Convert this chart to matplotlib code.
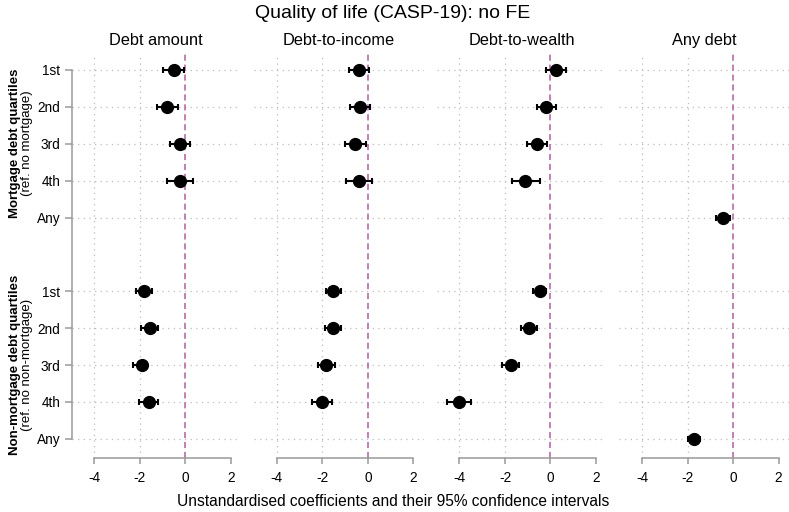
import numpy as np
import matplotlib
matplotlib.use('Agg')
import matplotlib.pyplot as plt

plt.rcParams['font.family'] = ['Liberation Sans', 'DejaVu Sans']

# panels and row labels
panels = ['Debt amount', 'Debt-to-income', 'Debt-to-wealth', 'Any debt']
row_labels = ['1st', '2nd', '3rd', '4th', 'Any', '1st', '2nd', '3rd', '4th', 'Any']
row_pos = [1, 2, 3, 4, 5, 7, 8, 9, 10, 11]
nan = np.nan

# coefficients (rows: mortgage 1st..Any, non-mortgage 1st..Any)
coef_amount = [-0.50, -0.79, -0.23, -0.25, nan, -1.81, -1.57, -1.92, -1.60, nan]
lo_amount = [-0.97, -1.26, -0.66, -0.82, nan, -2.16, -1.94, -2.31, -2.03, nan]
hi_amount = [-0.06, -0.32, 0.22, 0.34, nan, -1.46, -1.22, -1.73, -1.19, nan]

coef_income = [-0.41, -0.35, -0.56, -0.41, nan, -1.52, -1.54, -1.82, -2.03, nan]
lo_income = [-0.85, -0.80, -1.02, -0.97, nan, -1.86, -1.89, -2.20, -2.46, nan]
hi_income = [0.06, 0.10, -0.07, 0.18, nan, -1.20, -1.20, -1.45, -1.58, nan]

coef_wealth = [0.25, -0.18, -0.60, -1.10, nan, -0.46, -0.94, -1.75, -4.03, nan]
lo_wealth = [-0.18, -0.60, -1.03, -1.71, nan, -0.78, -1.29, -2.13, -4.53, nan]
hi_wealth = [0.68, 0.26, -0.16, -0.44, nan, -0.18, -0.60, -1.37, -3.50, nan]

coef_any = [nan, nan, nan, nan, -0.45, nan, nan, nan, nan, -1.73]
lo_any = [nan, nan, nan, nan, -0.77, nan, nan, nan, nan, -1.96]
hi_any = [nan, nan, nan, nan, -0.13, nan, nan, nan, nan, -1.46]

coefs = [coef_amount, coef_income, coef_wealth, coef_any]
los = [lo_amount, lo_income, lo_wealth, lo_any]
his = [hi_amount, hi_income, hi_wealth, hi_any]

W, H = 789, 512
fig = plt.figure(figsize=(W / 100, H / 100), dpi=100)

grid_col = '#bdbdbd'
spine_col = '#9a9a9a'
zero_col = '#b05fa0'

left0 = 71.5
pw = 169.5
step = 182.6
top_px, bot_px = 53, 458

for i, name in enumerate(panels):
    ax = fig.add_axes([(left0 + i * step) / W, 1 - bot_px / H, pw / W, (bot_px - top_px) / H])
    c = np.array(coefs[i])
    lo = np.array(los[i])
    hi = np.array(his[i])
    y = np.array(row_pos, dtype=float)

    # grid
    for yy in row_pos:
        ax.axhline(yy, color=grid_col, lw=0.9, ls=(0, (1, 3.5)), zorder=0)
    for xx in [-4, -2]:
        ax.axvline(xx, color=grid_col, lw=0.9, ls=(0, (1, 3.5)), zorder=0)
    ax.axvline(0, color=zero_col, lw=1.1, ls=(0, (4, 2.5)), zorder=1)

    ok = ~np.isnan(c)
    ax.errorbar(c[ok], y[ok], xerr=[c[ok] - lo[ok], hi[ok] - c[ok]], fmt='o',
                color='black', ms=8.5, elinewidth=1.5, capsize=2.5, capthick=1.5, zorder=3)

    ax.set_xlim(-5, 2.45)
    ax.set_ylim(11.52, 0.54)
    ax.set_title(name, fontsize=11.8, pad=6)

    for s in ['top', 'right']:
        ax.spines[s].set_visible(False)
    ax.spines['bottom'].set_color(spine_col)
    ax.spines['bottom'].set_bounds(-4, 2)
    ax.spines['bottom'].set_linewidth(1.1)
    ax.set_xticks([-4, -2, 0, 2])
    ax.set_xticklabels(['-4', '-2', '0', '2'])
    ax.tick_params(axis='x', colors=spine_col, labelcolor='black', labelsize=9.8,
                   length=4.5, width=1.1, pad=5)

    if i == 0:
        ax.spines['left'].set_color(spine_col)
        ax.spines['left'].set_bounds(1, 11)
        ax.spines['left'].set_linewidth(1.1)
        ax.set_yticks(row_pos)
        ax.set_yticklabels(row_labels)
        ax.tick_params(axis='y', colors=spine_col, labelcolor='black', labelsize=9.8,
                       length=5, width=1.1, pad=3)
    else:
        ax.spines['left'].set_visible(False)
        ax.set_yticks([])

# group labels
fig.text(15 / W, 1 - 143 / H, 'Mortgage debt quartiles', rotation=90, fontsize=9.5,
         fontweight='bold', ha='center', va='center')
fig.text(27 / W, 1 - 143 / H, '(ref. no mortgage)', rotation=90, fontsize=9.5,
         ha='center', va='center')
fig.text(15 / W, 1 - 365 / H, 'Non-mortgage debt quartiles', rotation=90, fontsize=9.5,
         fontweight='bold', ha='center', va='center')
fig.text(27 / W, 1 - 365 / H, '(ref. no non-mortgage)', rotation=90, fontsize=9.5,
         ha='center', va='center')

fig.text(393 / W, 1 - 13 / H, 'Quality of life (CASP-19): no FE', fontsize=14,
         ha='center', va='center')
fig.text(393 / W, 1 - 502 / H, 'Unstandardised coefficients and their 95% confidence intervals',
         fontsize=11.2, ha='center', va='center')

fig.savefig('out.png', dpi=100, facecolor='white')
